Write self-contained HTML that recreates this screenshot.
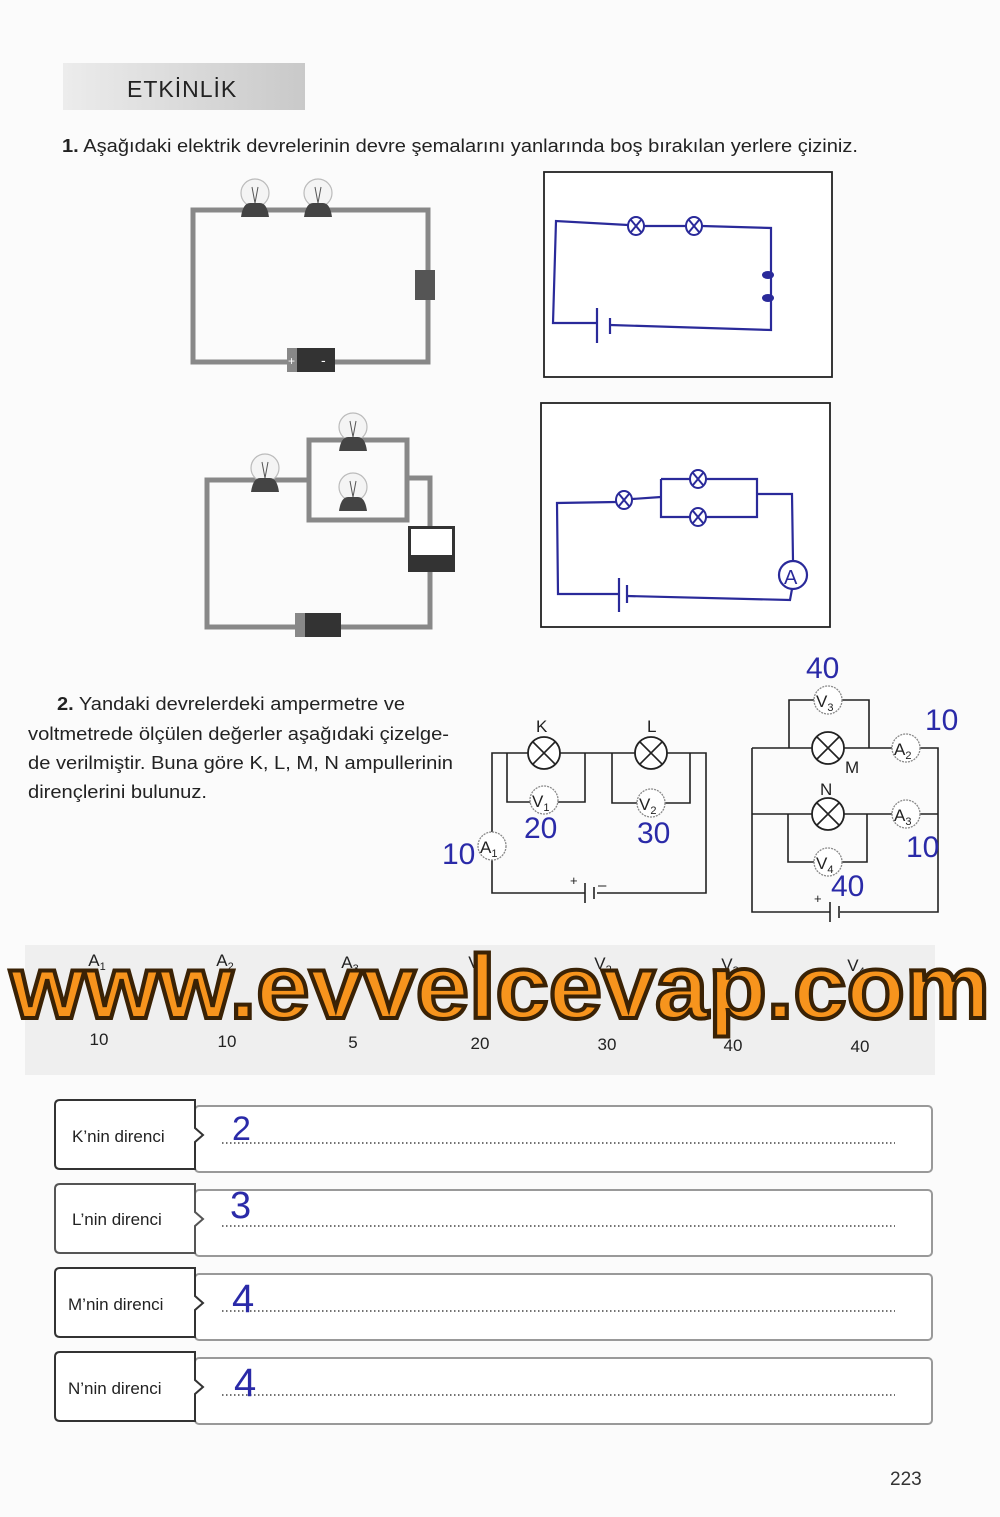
<!DOCTYPE html>
<html><head><meta charset="utf-8"><style>
html,body{margin:0;padding:0;background:#fbfbfb;}
svg{display:block;}
text{font-family:"Liberation Sans",sans-serif;}
</style></head><body>
<svg width="1000" height="1517" viewBox="0 0 1000 1517" xmlns="http://www.w3.org/2000/svg">
<defs>
<linearGradient id="tg" x1="0" x2="1"><stop offset="0" stop-color="#ececec"/><stop offset="1" stop-color="#c9c9c9"/></linearGradient>
<g id="lamp"><circle r="16" fill="#fff" stroke="#222" stroke-width="1.8"/><path d="M-11,-11L11,11M11,-11L-11,11" stroke="#222" stroke-width="1.6"/></g>
<g id="blamp"><ellipse rx="8" ry="9" fill="#fff" stroke="#2a2a9a" stroke-width="2"/><path d="M-5,-6L5,6M5,-6L-5,6" stroke="#2a2a9a" stroke-width="2"/></g>
<g id="bulb"><circle cx="0" cy="-14" r="14" fill="#f4f4f4" stroke="#bbb" stroke-width="1.2"/><path d="M-3,-20L0,-4L3,-20" stroke="#555" fill="none"/><path d="M-14,10Q-12,-4 -5,-4L5,-4Q12,-4 14,10Z" fill="#444"/></g>
<g id="meter"><circle r="14" fill="#fff" stroke="#888" stroke-width="1.3" stroke-dasharray="2,1"/></g>
</defs>
<rect width="1000" height="1517" fill="#fbfbfb"/>
<rect x="63" y="63" width="242" height="47" fill="url(#tg)"/>
<text x="127" y="97" font-size="23" fill="#222" letter-spacing="1">ETKİNLİK</text>
<text x="62" y="152" font-size="18" fill="#222" textLength="796" lengthAdjust="spacingAndGlyphs"><tspan font-weight="bold">1.</tspan> Aşağıdaki elektrik devrelerinin devre şemalarını yanlarında boş bırakılan yerlere çiziniz.</text>

<g stroke="#888" stroke-width="5" fill="none"><path d="M193,210H428V362H193Z"/></g>
<use href="#bulb" x="255" y="207"/><use href="#bulb" x="318" y="207"/>
<rect x="415" y="270" width="20" height="30" fill="#555"/>
<rect x="287" y="348" width="48" height="24" fill="#333"/><rect x="287" y="348" width="10" height="24" fill="#888"/>
<text x="288" y="365" font-size="12" fill="#fff">+</text><text x="321" y="365" font-size="14" fill="#fff">-</text>
<rect x="544" y="172" width="288" height="205" fill="#fff" stroke="#222" stroke-width="1.8"/>
<g stroke="#2a2a9a" stroke-width="2.2" fill="none">
<path d="M628,225L556,221L553,323L597,323M610,325L771,330L771,228L702,226M644,226L686,226"/>
<path d="M597,308V343M610,318V334"/>
</g>
<use href="#blamp" x="636" y="226"/><use href="#blamp" x="694" y="226"/>
<ellipse cx="768" cy="275" rx="6" ry="4" fill="#2a2a9a"/><ellipse cx="768" cy="298" rx="6" ry="4" fill="#2a2a9a"/>

<g stroke="#888" stroke-width="5" fill="none">
<path d="M309,480H207V627H430V478H407"/><path d="M309,440H407V520H309Z"/>
</g>
<use href="#bulb" x="265" y="482"/><use href="#bulb" x="353" y="441"/><use href="#bulb" x="353" y="501"/>
<rect x="408" y="526" width="47" height="46" fill="#333"/><rect x="411" y="529" width="41" height="26" fill="#fff"/>
<rect x="295" y="613" width="46" height="24" fill="#333"/><rect x="295" y="613" width="10" height="24" fill="#888"/>
<rect x="541" y="403" width="289" height="224" fill="#fff" stroke="#222" stroke-width="1.8"/>
<g stroke="#2a2a9a" stroke-width="2.2" fill="none">
<path d="M616,502L557,503L558,594L619,594M627,596L790,600L792,589M793,561L792,494L757,494M632,499L661,497"/>
<path d="M661,479H690M706,479H757V517H706M690,517H661V479"/>
<path d="M619,578V612M627,585V603"/>
</g>
<use href="#blamp" x="624" y="500"/><use href="#blamp" x="698" y="479"/><use href="#blamp" x="698" y="517"/>
<circle cx="793" cy="575" r="14" fill="#fff" stroke="#2a2a9a" stroke-width="2.2"/>
<text x="784" y="584" font-size="20" fill="#2a2a9a">A</text>

<g font-size="18" fill="#222">
<text x="57" y="710" textLength="348" lengthAdjust="spacingAndGlyphs"><tspan font-weight="bold">2.</tspan> Yandaki devrelerdeki ampermetre ve</text>
<text x="28" y="740" textLength="421" lengthAdjust="spacingAndGlyphs">voltmetrede ölçülen değerler aşağıdaki çizelge-</text>
<text x="28" y="769" textLength="425" lengthAdjust="spacingAndGlyphs">de verilmiştir. Buna göre K, L, M, N ampullerinin</text>
<text x="28" y="798" textLength="179" lengthAdjust="spacingAndGlyphs">dirençlerini bulunuz.</text>
</g>
<g stroke="#222" stroke-width="1.6" fill="none">
<path d="M492,834V753H706V893H597M585,893H492V858"/>
<path d="M507,753V802H532M556,802H585V753"/>
<path d="M612,753V803H639M663,803H690V753"/>
<path d="M585,883V903M594,887V899"/>
</g>
<use href="#lamp" x="544" y="753"/><use href="#lamp" x="651" y="753"/>
<use href="#meter" x="544" y="800"/><use href="#meter" x="651" y="803"/><use href="#meter" x="492" y="846"/>
<g font-size="17" fill="#222">
<text x="536" y="732">K</text><text x="647" y="732">L</text>
<text x="532" y="807" font-size="17">V<tspan font-size="11" dy="4">1</tspan></text>
<text x="639" y="810" font-size="17">V<tspan font-size="11" dy="4">2</tspan></text>
<text x="480" y="853" font-size="17">A<tspan font-size="11" dy="4">1</tspan></text>
<text x="570" y="885" font-size="13">+</text><text x="598" y="890" font-size="15">–</text>
</g>
<g stroke="#222" stroke-width="1.6" fill="none">
<path d="M752,748V912H830M840,912H938V748H918M894,748H752"/>
<path d="M752,814H938"/>
<path d="M789,748V700H816M840,700H869V748"/>
<path d="M788,814V862H816M840,862H867V814"/>
<path d="M830,902V922M839,906V918"/>
</g>
<use href="#lamp" x="828" y="748"/><use href="#lamp" x="828" y="814"/>
<use href="#meter" x="828" y="700"/><use href="#meter" x="906" y="748"/><use href="#meter" x="906" y="814"/><use href="#meter" x="828" y="862"/>
<g font-size="17" fill="#222">
<text x="816" y="707">V<tspan font-size="11" dy="4">3</tspan></text>
<text x="894" y="755">A<tspan font-size="11" dy="4">2</tspan></text>
<text x="894" y="821">A<tspan font-size="11" dy="4">3</tspan></text>
<text x="816" y="869">V<tspan font-size="11" dy="4">4</tspan></text>
<text x="845" y="773" font-size="17">M</text><text x="820" y="795" font-size="17">N</text>
<text x="814" y="903" font-size="13">+</text>
</g>
<g fill="#2a2aa8" font-family="Liberation Sans" font-size="30">
<text x="442" y="864">10</text><text x="524" y="838">20</text><text x="637" y="843">30</text>
<text x="806" y="678">40</text><text x="925" y="730">10</text><text x="906" y="857">10</text><text x="831" y="896">40</text>
</g>

<rect x="25" y="945" width="910" height="130" fill="#efefef"/>
<g font-size="17" fill="#222" text-anchor="middle">
<text x="97" y="966">A<tspan font-size="11" dy="4">1</tspan></text>
<text x="225" y="966">A<tspan font-size="11" dy="4">2</tspan></text>
<text x="350" y="968">A<tspan font-size="11" dy="4">3</tspan></text>
<text x="477" y="968">V<tspan font-size="11" dy="4">1</tspan></text>
<text x="603" y="969">V<tspan font-size="11" dy="4">2</tspan></text>
<text x="730" y="970">V<tspan font-size="11" dy="4">3</tspan></text>
<text x="856" y="971">V<tspan font-size="11" dy="4">4</tspan></text>
<text x="99" y="1045">10</text><text x="227" y="1047">10</text><text x="353" y="1048">5</text>
<text x="480" y="1049">20</text><text x="607" y="1050">30</text><text x="733" y="1051">40</text><text x="860" y="1052">40</text>
</g>
<text x="500" y="1018" text-anchor="middle" font-family="Liberation Serif" font-weight="bold" font-size="90" fill="#f7941d" stroke="#3a2205" stroke-width="4" textLength="980" lengthAdjust="spacingAndGlyphs">www.evvelcevap.com</text>

<g>
<rect x="195" y="1106" width="737" height="66" rx="4" fill="#fff" stroke="#999" stroke-width="2"/>
<path d="M195,1100H60Q55,1100 55,1105V1164Q55,1169 60,1169H195V1142L203,1135L195,1128Z" fill="#fff" stroke="#333" stroke-width="2"/>
<text x="72" y="1142" font-size="17" fill="#222">K’nin direnci</text>
<line x1="222" y1="1143" x2="895" y2="1143" stroke="#444" stroke-width="1.5" stroke-dasharray="1.5,2.5"/>
<text x="232" y="1140" font-size="34" fill="#2a2aa8">2</text>

<rect x="195" y="1190" width="737" height="66" rx="4" fill="#fff" stroke="#999" stroke-width="2"/>
<path d="M195,1184H60Q55,1184 55,1189V1248Q55,1253 60,1253H195V1226L203,1219L195,1212Z" fill="#fff" stroke="#555" stroke-width="2"/>
<text x="72" y="1225" font-size="17" fill="#222">L’nin direnci</text>
<line x1="222" y1="1226" x2="895" y2="1226" stroke="#444" stroke-width="1.5" stroke-dasharray="1.5,2.5"/>
<text x="230" y="1218" font-size="38" fill="#2a2aa8">3</text>

<rect x="195" y="1274" width="737" height="66" rx="4" fill="#fff" stroke="#999" stroke-width="2"/>
<path d="M195,1268H60Q55,1268 55,1273V1332Q55,1337 60,1337H195V1310L203,1303L195,1296Z" fill="#fff" stroke="#333" stroke-width="2"/>
<text x="68" y="1310" font-size="17" fill="#222">M’nin direnci</text>
<line x1="222" y1="1311" x2="895" y2="1311" stroke="#444" stroke-width="1.5" stroke-dasharray="1.5,2.5"/>
<text x="232" y="1312" font-size="40" fill="#2a2aa8">4</text>

<rect x="195" y="1358" width="737" height="66" rx="4" fill="#fff" stroke="#999" stroke-width="2"/>
<path d="M195,1352H60Q55,1352 55,1357V1416Q55,1421 60,1421H195V1394L203,1387L195,1380Z" fill="#fff" stroke="#333" stroke-width="2"/>
<text x="68" y="1394" font-size="17" fill="#222">N’nin direnci</text>
<line x1="222" y1="1395" x2="895" y2="1395" stroke="#444" stroke-width="1.5" stroke-dasharray="1.5,2.5"/>
<text x="234" y="1396" font-size="40" fill="#2a2aa8">4</text>
</g>
<text x="890" y="1485" font-size="19" fill="#333">223</text>
</svg>
</body></html>
